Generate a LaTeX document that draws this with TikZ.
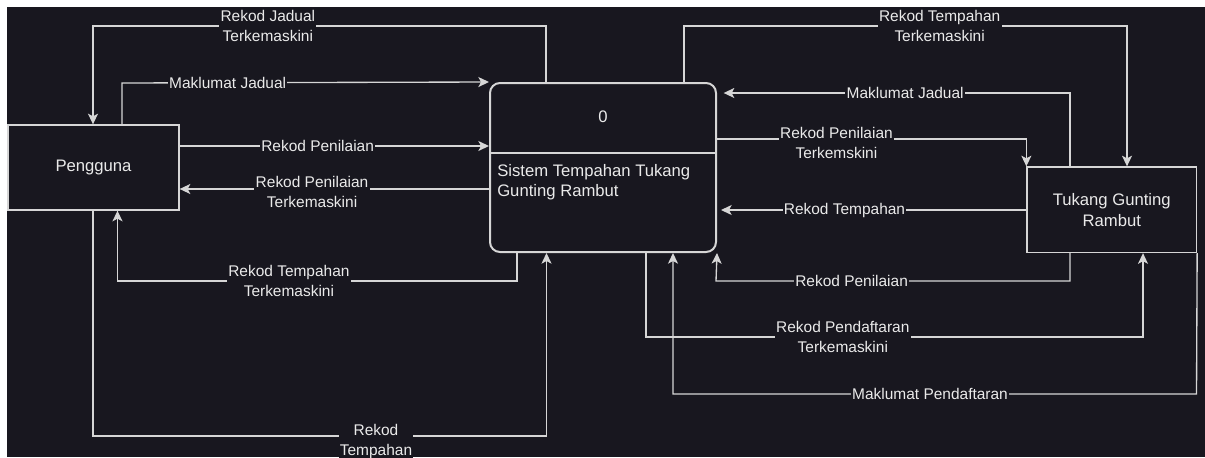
\documentclass[tikz,border=0pt]{standalone}
\usepackage{fontspec}
\setmainfont{Liberation Sans}
\usetikzlibrary{arrows.meta}
\definecolor{bg}{RGB}{24,23,31}
\definecolor{ln}{RGB}{214,214,214}
\definecolor{tx}{RGB}{234,234,234}
\begin{document}
\begin{tikzpicture}[x=0.75pt,y=-0.75pt,
  flow/.style={draw=ln, line width=1pt, -{Stealth[length=8pt,width=7.5pt,inset=2pt]}},
  lbl/.style={fill=bg, text=tx, font=\fontsize{11.6}{15}\selectfont, align=center, inner sep=1pt},
  ent/.style={draw=ln, line width=1pt, fill=bg, text=tx, font=\fontsize{12.5}{15.5}\selectfont, align=center, inner sep=0pt},
]
\useasboundingbox (0,0) rectangle (1205,457);
\fill[white] (0,0) rectangle (1205,457);
\fill[bg] (7,7) rectangle (1205,457);

% entities
\node[ent, minimum width=128.25pt, minimum height=63.75pt] (peng) at (93.5,167.5) {Pengguna};
\node[ent, minimum width=127.1pt, minimum height=64.1pt] (tgr) at (1111.75,209.75) {Tukang Gunting\\Rambut};
\node[ent, line width=1.5pt, rounded corners=7.5pt, minimum width=169.5pt, minimum height=126.75pt] (sys) at (603,167.5) {};
\draw[ln, line width=1.5pt] (sys.west |- 0,153) -- (sys.east |- 0,153);
\node[text=tx, font=\fontsize{12.5}{15.5}\selectfont] (sysid) at (603,117) {0};
\node[text=tx, font=\fontsize{12.5}{14.6}\selectfont, align=left, anchor=west, inner sep=0pt] (systxt) at (497,182) {Sistem Tempahan Tukang\\Gunting Rambut};

% flows Pengguna side
\draw[flow] (546,0 |- sys.north) -- (546,26) -- node[lbl,pos=0.614]{Rekod Jadual\\Terkemaskini} (93,26) -- (93,0 |- peng.north);
\draw[flow] (122,0 |- peng.north) -- (122,83) -- node[lbl,pos=0.288]{Maklumat Jadual} (sys.north west);
\draw[flow] (peng.east |- 0,146) -- node[lbl,pos=0.446]{Rekod Penilaian} (sys.west |- 0,146);
\draw[flow] (sys.west |- 0,189) -- node[lbl,pos=0.572,yshift=-2pt]{Rekod Penilaian\\Terkemaskini} (peng.east |- 0,189);
\draw[flow] (517,0 |- sys.south) -- (517,281) -- node[lbl,pos=0.571]{Rekod Tempahan\\Terkemaskini} (117.5,281) -- (117.5,0 |- peng.south);
\draw[flow] (93,0 |- peng.south) -- (93,436) -- node[lbl,pos=0.624,yshift=-4pt]{Rekod\\Tempahan} (546.5,436) -- (546.5,0 |- sys.south);

% flows Tukang side
\draw[flow] (684,0 |- sys.north) -- (684,26) -- node[lbl,pos=0.577]{Rekod Tempahan\\Terkemaskini} (1127,26) -- (1127,0 |- tgr.north);
\draw[flow, shorten >=5pt] (1070,0 |- tgr.north) -- (1070,93) -- node[lbl,pos=0.467]{Maklumat Jadual} (sys.east |- 0,93);
\draw[flow] (sys.east |- 0,139) -- node[lbl,pos=0.386,yshift=-3pt]{Rekod Penilaian\\Terkemskini} (tgr.west |- 0,139) -- (tgr.north west);
\draw[flow, shorten >=3pt] (tgr.west |- 0,210) -- node[lbl,pos=0.588]{Rekod Tempahan} (sys.east |- 0,210);
\draw[flow] (1070,0 |- tgr.south) -- (1070,281) -- node[lbl,pos=0.617]{Rekod Penilaian} (716,281) -- (sys.south east);
\draw[flow] (646,0 |- sys.south) -- (646,337) -- node[lbl,pos=0.396]{Rekod Pendaftaran\\Terkemaskini} (1143,337) -- (1143,0 |- tgr.south);
\draw[flow] (tgr.south east) -- (1196.5,394) -- node[lbl,pos=0.509]{Maklumat Pendaftaran} (673,394) -- (673,0 |- sys.south);
\end{tikzpicture}
\end{document}
